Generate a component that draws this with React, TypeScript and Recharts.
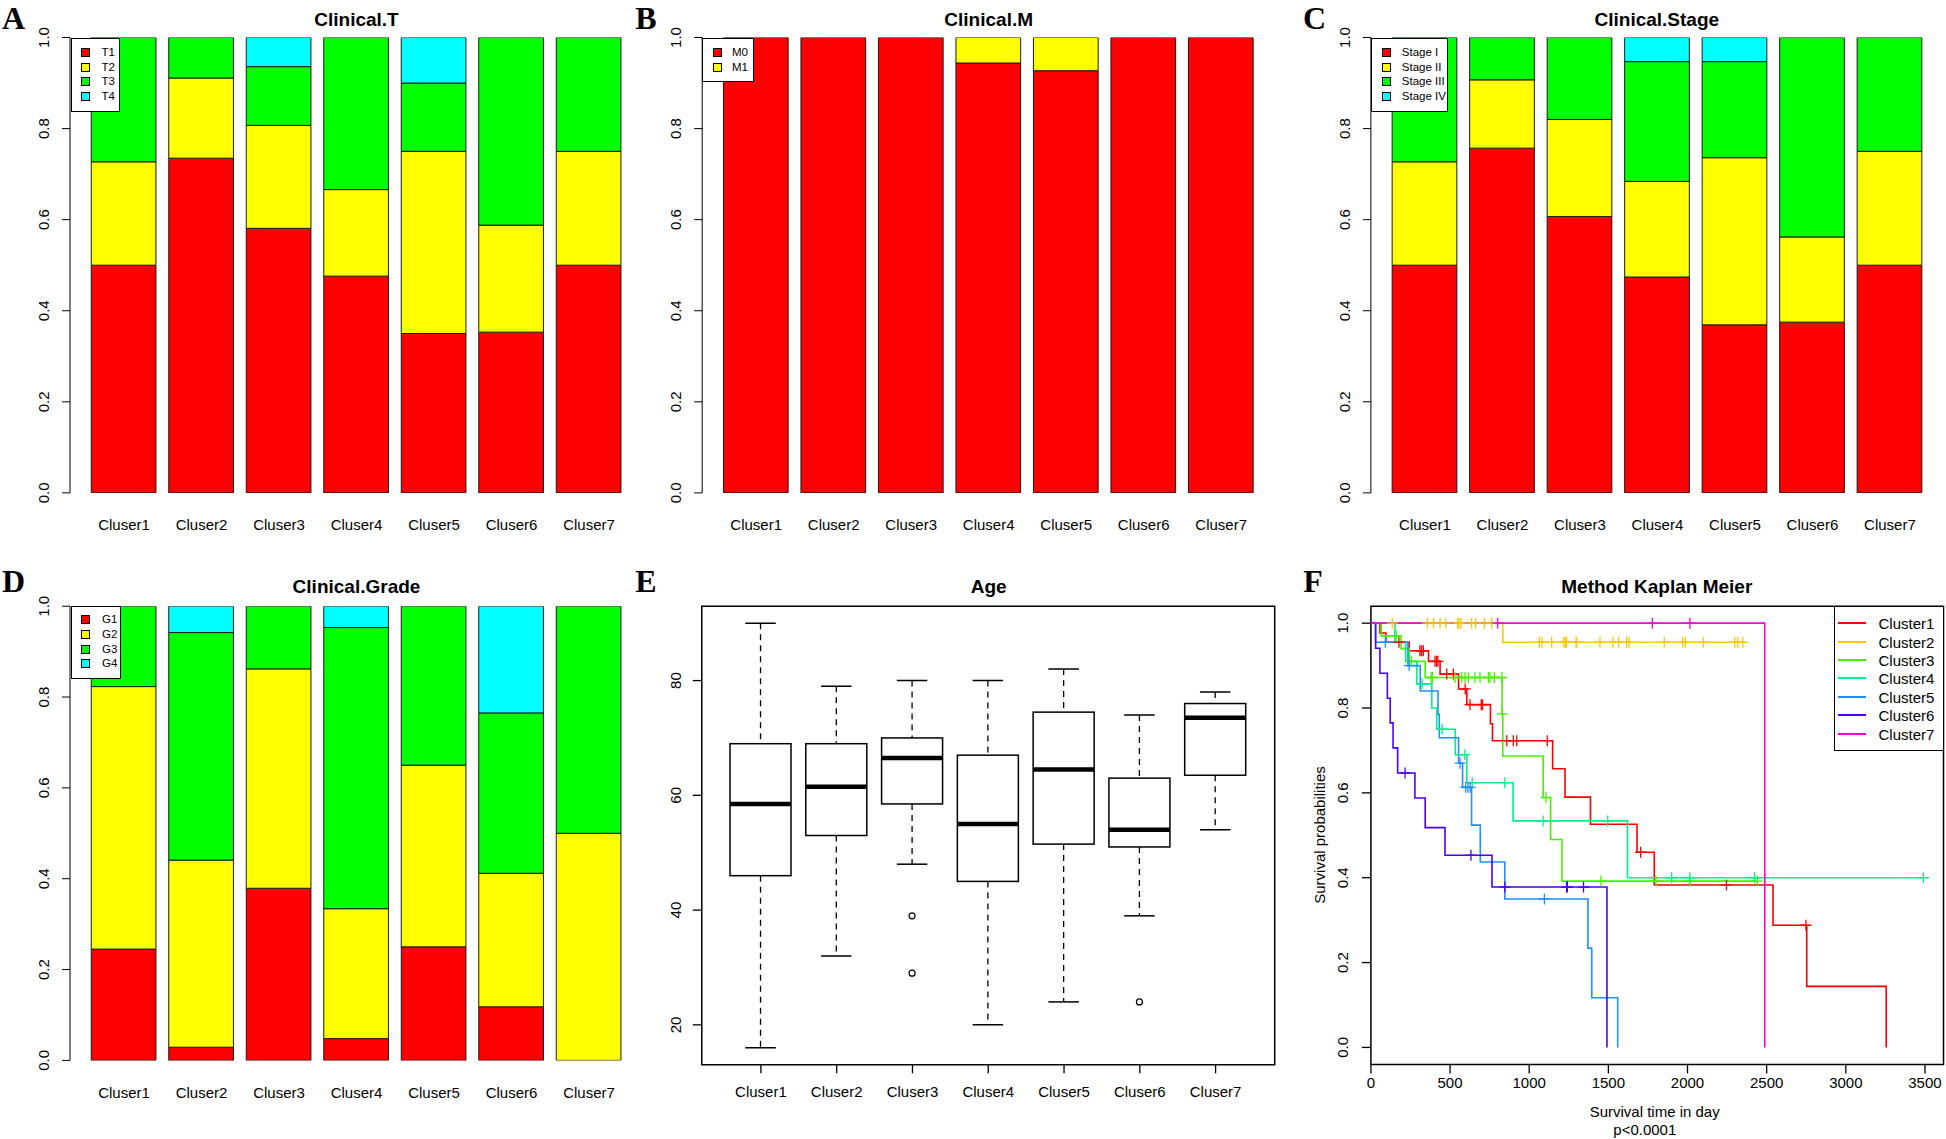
import React from 'react';
import { BarChart, Bar, XAxis, YAxis, LineChart, Line, ReferenceArea, Legend } from 'recharts';

const FONT = '"Liberation Sans", Arial, Helvetica, sans-serif';
const SERIF = '"Liberation Serif", "Times New Roman", serif';

// ---------- categories ----------
const CLUSTERS = ['Cluser1', 'Cluser2', 'Cluser3', 'Cluser4', 'Cluser5', 'Cluser6', 'Cluser7'];
const PROP_TICKS = [0, 0.2, 0.4, 0.6, 0.8, 1.0];
const STACK_COLORS = ['#FF0000', '#FFFF00', '#00FF00', '#00FFFF'];

// ---------- A: Clinical.T ----------
const T_LABELS = ['T1', 'T2', 'T3', 'T4'];
const T_T1 = [0.5, 0.735, 0.581, 0.476, 0.35, 0.353, 0.5];
const T_T2 = [0.227, 0.176, 0.226, 0.19, 0.4, 0.235, 0.25];
const T_T3 = [0.273, 0.089, 0.129, 0.334, 0.15, 0.412, 0.25];
const T_T4 = [0, 0, 0.064, 0, 0.1, 0, 0];

// ---------- B: Clinical.M ----------
const M_LABELS = ['M0', 'M1'];
const M_M0 = [1, 1, 1, 0.944, 0.927, 1, 1];
const M_M1 = [0, 0, 0, 0.056, 0.073, 0, 0];

// ---------- C: Clinical.Stage ----------
const STAGE_LABELS = ['Stage I', 'Stage II', 'Stage III', 'Stage IV'];
const ST_1 = [0.5, 0.757, 0.607, 0.474, 0.369, 0.375, 0.5];
const ST_2 = [0.227, 0.15, 0.213, 0.21, 0.367, 0.187, 0.25];
const ST_3 = [0.273, 0.093, 0.18, 0.263, 0.211, 0.438, 0.25];
const ST_4 = [0, 0, 0, 0.053, 0.053, 0, 0];

// ---------- D: Clinical.Grade ----------
const GRADE_LABELS = ['G1', 'G2', 'G3', 'G4'];
const GR_1 = [0.245, 0.029, 0.379, 0.048, 0.25, 0.118, 0];
const GR_2 = [0.578, 0.412, 0.483, 0.286, 0.4, 0.294, 0.5];
const GR_3 = [0.177, 0.501, 0.138, 0.619, 0.35, 0.353, 0.5];
const GR_4 = [0, 0.058, 0, 0.047, 0, 0.235, 0];

// ---------- E: Age ----------
const AGE_LO = [16, 32, 48, 20, 24, 39, 54];
const AGE_Q1 = [46, 53, 58.5, 45, 51.5, 51, 63.5];
const AGE_MED = [58.5, 61.5, 66.5, 55, 64.5, 54, 73.5];
const AGE_Q3 = [69, 69, 70, 67, 74.5, 63, 76];
const AGE_HI = [90, 79, 80, 80, 82, 74, 78];
const AGE_OUT = [[], [], [39, 29], [], [], [24], []];
const AGE_TICKS = [20, 40, 60, 80];
const AGE_DOMAIN = [13.04, 92.96];

// ---------- F: Kaplan Meier ----------
const KM_NAMES = ['Cluster1', 'Cluster2', 'Cluster3', 'Cluster4', 'Cluster5', 'Cluster6', 'Cluster7'];
const KM_COLORS = ['#FF0000', '#FFC800', '#49F000', '#00F08A', '#1E90FF', '#4900FF', '#FF00DB'];
const KM_X_TICKS = [0, 500, 1000, 1500, 2000, 2500, 3000, 3500];
const KM_Y_TICKS = [0, 0.2, 0.4, 0.6, 0.8, 1.0];

const KM1_T = [57, 95, 242, 364, 437, 554, 606, 755, 768, 1148, 1226, 1387, 1681, 1790, 2540, 2753, 3255];
const KM1_S = [0.977, 0.955, 0.935, 0.91, 0.88, 0.845, 0.808, 0.763, 0.723, 0.657, 0.59, 0.526, 0.46, 0.383, 0.288, 0.144, 0];
const KM1_C = [177, 310, 320, 331, 405, 415, 423, 479, 521, 596, 626, 697, 705, 858, 900, 921, 1114, 1704, 2246, 2748];

const KM2_T = [833];
const KM2_S = [0.955];
const KM2_C = [135, 357, 395, 437, 473, 548, 557, 569, 636, 662, 717, 763, 1064, 1081, 1142, 1218, 1228, 1236, 1296, 1300, 1447, 1529, 1565, 1615, 1630, 1853, 1969, 1986, 2100, 2298, 2318, 2350];

const KM3_T = [65, 190, 242, 343, 829, 833, 1088, 1135, 1207];
const KM3_S = [0.97, 0.94, 0.91, 0.872, 0.786, 0.687, 0.589, 0.49, 0.392];
const KM3_C = [160, 255, 380, 388, 531, 573, 594, 616, 657, 689, 742, 752, 780, 827, 830, 1106, 1453, 1801, 2015, 2441];

const KM4_T = [152, 220, 290, 385, 416, 533, 606, 898, 1621];
const KM4_S = [0.955, 0.91, 0.857, 0.8, 0.75, 0.69, 0.624, 0.534, 0.4];
const KM4_C = [323, 450, 593, 640, 846, 1088, 1496, 1900, 2015, 2423, 3490];

const KM5_T = [29, 234, 312, 424, 432, 554, 579, 636, 691, 846, 1371, 1395, 1559];
const KM5_S = [0.955, 0.9, 0.84, 0.785, 0.73, 0.67, 0.613, 0.524, 0.437, 0.35, 0.234, 0.117, 0];
const KM5_C = [91, 242, 563, 599, 613, 627, 1096];

const KM6_T = [30, 57, 104, 122, 140, 169, 278, 343, 468, 765, 1491];
const KM6_S = [0.941, 0.882, 0.823, 0.765, 0.706, 0.647, 0.588, 0.518, 0.453, 0.378, 0];
const KM6_C = [216, 632, 846, 1236, 1241, 1343];

const KM7_T = [2488];
const KM7_S = [0];
const KM7_C = [801, 1778, 2015];

// ---------- builders ----------
function stackRows(series: number[][]) {
  return CLUSTERS.map((name, i) => {
    const r: any = { name };
    series.forEach((s, j) => { r['s' + j] = s[i]; });
    return r;
  });
}

const T_ROWS = stackRows([T_T1, T_T2, T_T3, T_T4]);
const M_ROWS = stackRows([M_M0, M_M1]);
const ST_ROWS = stackRows([ST_1, ST_2, ST_3, ST_4]);
const GR_ROWS = stackRows([GR_1, GR_2, GR_3, GR_4]);

const AGE_ROWS = CLUSTERS.map((name, i) => ({
  name, pos: i + 1, lo: AGE_LO[i], q1: AGE_Q1[i], med: AGE_MED[i], q3: AGE_Q3[i], hi: AGE_HI[i], out: AGE_OUT[i],
}));

function kmRows(times: number[], surv: number[], cens: number[]) {
  const pts: any[] = [{ t: 0, s: 1, c: false }];
  times.forEach((t, i) => pts.push({ t, s: surv[i], c: false }));
  cens.forEach((t) => {
    let s = 1;
    times.forEach((et, i) => { if (et <= t) s = surv[i]; });
    pts.push({ t, s, c: true });
  });
  pts.sort((a, b) => a.t - b.t || (a.c ? 1 : 0) - (b.c ? 1 : 0));
  return pts;
}

const KM_DATA = [
  kmRows(KM1_T, KM1_S, KM1_C),
  kmRows(KM2_T, KM2_S, KM2_C),
  kmRows(KM3_T, KM3_S, KM3_C),
  kmRows(KM4_T, KM4_S, KM4_C),
  kmRows(KM5_T, KM5_S, KM5_C),
  kmRows(KM6_T, KM6_S, KM6_C),
  kmRows(KM7_T, KM7_S, KM7_C),
];

// ---------- helpers ----------
function Txt({ x, y, children, size = 15, bold = false, rotate = 0, family = FONT, lh = 1 }: any) {
  return (
    <div style={{
      position: 'absolute', left: x, top: y,
      transform: `translate(-50%, -50%) rotate(${rotate}deg)`,
      fontSize: size, fontWeight: bold ? 700 : 400, fontFamily: family,
      lineHeight: lh, whiteSpace: 'nowrap', color: '#000',
    }}>{children}</div>
  );
}

const rotTick = (off: number, fmt: (v: number) => string) => (p: any) => {
  const { x, y, payload, index } = p;
  const cx = x - off;
  return (
    <text key={`yt${index}`} x={cx} y={y} transform={`rotate(-90 ${cx} ${y})`} textAnchor="middle"
      dominantBaseline="central" fontSize={15} fontFamily={FONT} fill="#000">{fmt(payload.value)}</text>
  );
};

const catTick = (dy: number, fmt: (v: any) => string) => (p: any) => {
  const { x, y, payload, index } = p;
  return (
    <text key={`xt${index}`} x={x} y={y + dy} textAnchor="middle" dominantBaseline="central"
      fontSize={15} fontFamily={FONT} fill="#000">{fmt(payload.value)}</text>
  );
};

function SquareLegend({ payload, w, h, first, row, sqX, txtX, fs }: any) {
  return (
    <div style={{ position: 'relative', width: w, height: h, border: '1px solid #000', boxSizing: 'border-box', background: '#fff' }}>
      {(payload || []).map((e: any, i: number) => (
        <React.Fragment key={i}>
          <div style={{
            position: 'absolute', left: sqX - 5, top: first + i * row - 5, width: 9, height: 9,
            background: e.color, border: '1px solid #000', boxSizing: 'border-box',
          }} />
          <div style={{
            position: 'absolute', left: txtX, top: first + i * row, transform: 'translateY(-50%)',
            fontSize: fs, fontFamily: FONT, lineHeight: 1, whiteSpace: 'nowrap', color: '#000',
          }}>{e.value}</div>
        </React.Fragment>
      ))}
    </div>
  );
}

function StackPanel({ left, top, w, h, pl, pr, pt, pb, rows, labels, lg }: any) {
  const YW = 45, XH = 45;
  return (
    <div style={{ position: 'absolute', left, top }}>
      <BarChart width={w} height={h} data={rows}
        margin={{ left: pl - YW, right: w - pr, top: pt, bottom: h - pb - XH }}>
        <XAxis dataKey="name" type="category" height={XH} axisLine={false} tickLine={false}
          tickSize={0} tickMargin={0} padding={{ left: 15.25, right: 15.25 }} interval={0}
          tick={catTick(32, (v) => v)} />
        <YAxis type="number" width={YW} domain={[0, 1]} ticks={PROP_TICKS} allowDataOverflow interval={0}
          axisLine={{ stroke: '#000', strokeWidth: 1 }} tickLine={{ stroke: '#000', strokeWidth: 1 }}
          tickSize={8} tickMargin={0} tick={rotTick(18.5, (v) => v.toFixed(1))} />
        {labels.map((l: string, i: number) => (
          <Bar key={l} dataKey={'s' + i} name={l} stackId="a" fill={STACK_COLORS[i]} stroke="#1a1a1a"
            strokeWidth={1} barSize={64.7} isAnimationActive={false} />
        ))}
        <Legend layout="horizontal" verticalAlign="middle" align="center"
          wrapperStyle={{ left: lg.x, top: lg.y, width: lg.w, height: lg.h }}
          content={(p: any) => <SquareLegend payload={p.payload} {...lg} />} />
      </BarChart>
    </div>
  );
}

const BoxShape = (props: any) => {
  const { x, y, width, height, payload } = props;
  if (!payload) return <g />;
  const top = Math.min(y, y + height);
  const h = Math.abs(height);
  const k = h / (payload.hi - payload.lo);
  const py = (v: number) => top + (payload.hi - v) * k;
  const cx = x + width / 2;
  const cap = width / 4;
  return (
    <g>
      <line x1={cx} x2={cx} y1={py(payload.hi)} y2={py(payload.q3)} stroke="#000" strokeWidth={1.3} strokeDasharray="6 5" />
      <line x1={cx} x2={cx} y1={py(payload.q1)} y2={py(payload.lo)} stroke="#000" strokeWidth={1.3} strokeDasharray="6 5" />
      <line x1={cx - cap} x2={cx + cap} y1={py(payload.hi)} y2={py(payload.hi)} stroke="#000" strokeWidth={1.5} />
      <line x1={cx - cap} x2={cx + cap} y1={py(payload.lo)} y2={py(payload.lo)} stroke="#000" strokeWidth={1.5} />
      <rect x={x} y={py(payload.q3)} width={width} height={py(payload.q1) - py(payload.q3)} fill="#fff" stroke="#000" strokeWidth={1.5} />
      <line x1={x} x2={x + width} y1={py(payload.med)} y2={py(payload.med)} stroke="#000" strokeWidth={4.5} />
      {payload.out.map((o: number, i: number) => (
        <circle key={i} cx={cx} cy={py(o)} r={3} fill="none" stroke="#000" strokeWidth={1.2} />
      ))}
    </g>
  );
};

const censorDot = (color: string) => (p: any) => {
  const { cx, cy, payload, index } = p;
  if (!payload || !payload.c || cx == null || cy == null) return <g key={`n${index}`} />;
  return (
    <path key={`c${index}`} d={`M${cx - 5.5},${cy}H${cx + 5.5}M${cx},${cy - 5.5}V${cy + 5.5}`}
      stroke={color} strokeWidth={1.3} fill="none" />
  );
};

function KMLegend({ payload }: any) {
  return (
    <div style={{ position: 'relative', width: 109.5, height: 145.1, border: '1.5px solid #000', boxSizing: 'border-box', background: '#fff' }}>
      {(payload || []).map((e: any, i: number) => (
        <React.Fragment key={i}>
          <div style={{ position: 'absolute', left: 2.5, top: 16 + i * 18.4 - 1, width: 28, height: 2, background: e.color }} />
          <div style={{
            position: 'absolute', left: 43.5, top: 16 + i * 18.4, transform: 'translateY(-50%)',
            fontSize: 15, fontFamily: FONT, lineHeight: 1, whiteSpace: 'nowrap', color: '#000',
          }}>{e.value}</div>
        </React.Fragment>
      ))}
    </div>
  );
}

export default function App() {
  const YW = 45, XH = 45;
  return (
    <div style={{ position: 'absolute', left: 0, top: 0, width: 1946, height: 1139, background: '#fff', overflow: 'hidden', fontFamily: FONT }}>
      {/* A */}
      <StackPanel left={0} top={0} w={650} h={560} pl={70} pr={643} pt={37.5} pb={492.9}
        rows={T_ROWS} labels={T_LABELS}
        lg={{ x: 70.5, y: 37.5, w: 49, h: 74, first: 14.4, row: 14.63, sqX: 14.3, txtX: 30.1, fs: 11.5 }} />
      {/* B */}
      <StackPanel left={650} top={0} w={650} h={560} pl={52.2} pr={625.2} pt={37.5} pb={492.9}
        rows={M_ROWS} labels={M_LABELS}
        lg={{ x: 52, y: 37.5, w: 52, h: 44.3, first: 14.4, row: 14.63, sqX: 14.6, txtX: 29, fs: 11.5 }} />
      {/* C */}
      <StackPanel left={1300} top={0} w={646} h={560} pl={70.9} pr={643.9} pt={37.5} pb={492.9}
        rows={ST_ROWS} labels={STAGE_LABELS}
        lg={{ x: 71, y: 37.5, w: 77.3, h: 74, first: 14.4, row: 14.63, sqX: 14.5, txtX: 29.8, fs: 11.5 }} />
      {/* D */}
      <StackPanel left={0} top={560} w={650} h={579} pl={70} pr={643} pt={46.2} pb={500.4}
        rows={GR_ROWS} labels={GRADE_LABELS}
        lg={{ x: 70.5, y: 46.2, w: 50, h: 72.7, first: 13, row: 14.77, sqX: 14.8, txtX: 30.6, fs: 11.5 }} />

      {/* E */}
      <div style={{ position: 'absolute', left: 650, top: 560 }}>
        <BarChart width={650} height={579} data={AGE_ROWS}
          margin={{ left: 51.8 - YW, right: 650 - 624.7, top: 46.2, bottom: 579 - 504.8 - XH }}>
          <XAxis dataKey="pos" type="number" domain={[0.22, 7.78]} ticks={[1, 2, 3, 4, 5, 6, 7]} allowDataOverflow
            height={XH} axisLine={false} tickLine={{ stroke: '#000', strokeWidth: 1.3 }} tickSize={8.5} tickMargin={0}
            interval={0} tick={catTick(18.5, (v) => CLUSTERS[v - 1])} />
          <YAxis type="number" width={YW} domain={AGE_DOMAIN} ticks={AGE_TICKS} allowDataOverflow interval={0}
            axisLine={false} tickLine={{ stroke: '#000', strokeWidth: 1.3 }} tickSize={9} tickMargin={0}
            tick={rotTick(17.1, (v) => String(v))} />
          <ReferenceArea y1={AGE_DOMAIN[0]} y2={AGE_DOMAIN[1]} fill="none" stroke="#000" strokeWidth={1.5} ifOverflow="visible" />
          <Bar dataKey={(d: any) => [d.lo, d.hi]} barSize={61} shape={BoxShape} isAnimationActive={false} />
        </BarChart>
      </div>

      {/* F */}
      <div style={{ position: 'absolute', left: 1300, top: 560 }}>
        <LineChart width={646} height={579}
          margin={{ left: 70.9 - YW, right: 646 - 643.5, top: 46.2, bottom: 579 - 504.4 - XH }}>
          <XAxis dataKey="t" type="number" domain={[0, 3617]} ticks={KM_X_TICKS} allowDataOverflow
            height={XH} axisLine={false} tickLine={{ stroke: '#000', strokeWidth: 1.3 }} tickSize={9} tickMargin={0}
            interval={0} tick={catTick(9.1, (v) => String(v))} />
          <YAxis type="number" width={YW} domain={[-0.04, 1.04]} ticks={KM_Y_TICKS} allowDataOverflow interval={0}
            axisLine={false} tickLine={{ stroke: '#000', strokeWidth: 1.3 }} tickSize={9} tickMargin={0}
            tick={rotTick(18.9, (v) => v.toFixed(1))} />
          <ReferenceArea y1={-0.04} y2={1.04} fill="none" stroke="#000" strokeWidth={1.5} ifOverflow="visible" />
          {KM_DATA.map((rows, i) => (
            <Line key={KM_NAMES[i]} data={rows} dataKey="s" name={KM_NAMES[i]} type="stepAfter"
              stroke={KM_COLORS[i]} strokeWidth={1.6} dot={censorDot(KM_COLORS[i])} activeDot={false}
              isAnimationActive={false} />
          ))}
          <Legend layout="horizontal" verticalAlign="middle" align="center"
            wrapperStyle={{ left: 534, top: 46.2, width: 109.5, height: 145.1 }}
            content={(p: any) => <KMLegend payload={p.payload} />} />
        </LineChart>
      </div>

      {/* panel letters */}
      <Txt x={13.5} y={18.4} size={32} bold family={SERIF}>A</Txt>
      <Txt x={646} y={18.4} size={32} bold family={SERIF}>B</Txt>
      <Txt x={1314.5} y={18.4} size={32} bold family={SERIF}>C</Txt>
      <Txt x={13.5} y={580.7} size={32} bold family={SERIF}>D</Txt>
      <Txt x={646} y={580.7} size={32} bold family={SERIF}>E</Txt>
      <Txt x={1313} y={581} size={32} bold family={SERIF}>F</Txt>

      {/* titles */}
      <Txt x={356.5} y={18.6} size={19} bold>Clinical.T</Txt>
      <Txt x={988.7} y={18.6} size={19} bold>Clinical.M</Txt>
      <Txt x={1656.8} y={18.6} size={19} bold>Clinical.Stage</Txt>
      <Txt x={356.5} y={585.8} size={19} bold>Clinical.Grade</Txt>
      <Txt x={988.7} y={585.8} size={19} bold>Age</Txt>
      <Txt x={1656.8} y={585.8} size={19} bold>Method Kaplan Meier</Txt>

      {/* KM axis labels */}
      <Txt x={1318.5} y={835} size={15} rotate={-90}>Survival probabilities</Txt>
      <Txt x={1654.7} y={1110.6} size={15}>Survival time in day</Txt>
      <Txt x={1644.8} y={1129} size={15}>p&lt;0.0001</Txt>
    </div>
  );
}
